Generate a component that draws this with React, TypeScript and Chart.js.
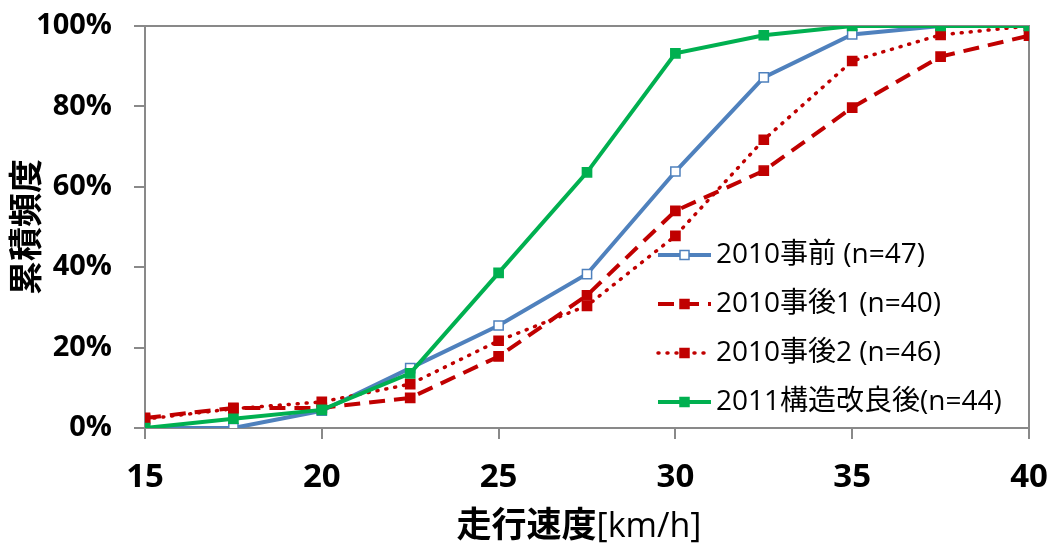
import React, { useEffect, useRef } from "react";
import { Chart, registerables } from "chart.js";

Chart.register(...registerables);

// Speed classes (km/h) and cumulative frequency (%) per survey
const speeds = [15, 17.5, 20, 22.5, 25, 27.5, 30, 32.5, 35, 37.5, 40];
const before2010 = [0, 0, 4.3, 14.9, 25.5, 38.3, 63.8, 87.2, 97.9, 100, 100];
const after2010a = [2.5, 5, 5, 7.5, 17.8, 33, 54, 64, 79.7, 92.4, 97.6];
const after2010b = [2.2, 4.8, 6.5, 10.9, 21.7, 30.4, 47.8, 71.7, 91.3, 97.8, 100];
const improved2011 = [0, 2.3, 4.5, 13.6, 38.6, 63.6, 93.2, 97.7, 100, 100, 100];

const seriesLabels = [
  "2010事前 (n=47)",
  "2010事後1 (n=40)",
  "2010事後2 (n=46)",
  "2011構造改良後(n=44)",
];
const xTickValues = [15, 20, 25, 30, 35, 40];
const yTickValues = [0, 20, 40, 60, 80, 100];
const xTitleMain = "走行速度";
const xTitleUnit = "[km/h]";
const yTitle = "累積頻度";

const FONT = "'Open Sans', 'Noto Sans CJK JP', sans-serif";
const AXIS_GREY = "#898989";
const BLUE = "#4f81bd";
const RED = "#c00000";
const GREEN = "#00b050";

const toPoints = (ys: number[]) => speeds.map((x, i) => ({ x, y: ys[i] }));

type LegendEntry = {
  label: string;
  color: string;
  dash: number[];
  width: number;
  fill: string;
  cap: CanvasLineCap;
};

// Legend drawn inside the plot area, lower right
const insideLegend = {
  id: "insideLegend",
  afterDraw(chart: Chart) {
    const ctx = chart.ctx;
    const entries: LegendEntry[] = [
      { label: seriesLabels[0], color: BLUE, dash: [], width: 4, fill: "#ffffff", cap: "butt" },
      { label: seriesLabels[1], color: RED, dash: [16, 9], width: 4, fill: RED, cap: "butt" },
      { label: seriesLabels[2], color: RED, dash: [1, 8], width: 3.5, fill: RED, cap: "round" },
      { label: seriesLabels[3], color: GREEN, dash: [], width: 4, fill: GREEN, cap: "butt" },
    ];
    const rowY = [255, 304, 353, 402];
    const x0 = 658;
    const x1 = 711;
    const mx = (x0 + x1) / 2;
    ctx.save();
    entries.forEach((e, i) => {
      const y = rowY[i];
      ctx.beginPath();
      ctx.setLineDash(e.dash);
      ctx.lineCap = e.cap;
      ctx.lineWidth = e.width;
      ctx.strokeStyle = e.color;
      ctx.moveTo(x0, y);
      ctx.lineTo(x1, y);
      ctx.stroke();
      ctx.setLineDash([]);
      ctx.lineCap = "butt";
      ctx.fillStyle = e.fill;
      ctx.fillRect(mx - 4.5, y - 4.5, 9, 9);
      ctx.lineWidth = 1.5;
      ctx.strokeStyle = e.color;
      ctx.strokeRect(mx - 4.5, y - 4.5, 9, 9);
      ctx.fillStyle = "#000000";
      ctx.font = `28px ${FONT}`;
      ctx.textBaseline = "middle";
      ctx.textAlign = "left";
      ctx.fillText(e.label, 716, y);
    });
    ctx.restore();
  },
};

// Top and right edges of the plot frame
const plotFrame = {
  id: "plotFrame",
  beforeDatasetsDraw(chart: Chart) {
    const { ctx, chartArea } = chart;
    ctx.save();
    ctx.strokeStyle = AXIS_GREY;
    ctx.lineWidth = 2;
    ctx.beginPath();
    ctx.moveTo(chartArea.left, chartArea.top);
    ctx.lineTo(chartArea.right, chartArea.top);
    ctx.lineTo(chartArea.right, chartArea.bottom);
    ctx.stroke();
    ctx.restore();
  },
};

// X axis title: bold Japanese followed by the unit in regular weight
const xAxisTitle = {
  id: "xAxisTitle",
  afterDraw(chart: Chart) {
    const { ctx, chartArea } = chart;
    ctx.save();
    ctx.fillStyle = "#000000";
    ctx.textBaseline = "middle";
    ctx.textAlign = "left";
    const boldFont = `bold 35px ${FONT}`;
    const unitFont = `34px ${FONT}`;
    ctx.font = boldFont;
    const w1 = ctx.measureText(xTitleMain).width;
    ctx.font = unitFont;
    const w2 = ctx.measureText(xTitleUnit).width;
    const cx = (chartArea.left + chartArea.right) / 2 - 8;
    const start = cx - (w1 + w2) / 2;
    const y = 527;
    ctx.font = boldFont;
    ctx.fillText(xTitleMain, start, y);
    ctx.font = unitFont;
    ctx.fillText(xTitleUnit, start + w1, y);
    ctx.restore();
  },
};

const noPad = (s: any) => {
  s.paddingTop = 0;
  s.paddingBottom = 0;
  s.paddingLeft = 0;
  s.paddingRight = 0;
};

export default function App() {
  const canvasRef = useRef<HTMLCanvasElement | null>(null);

  useEffect(() => {
    if (!canvasRef.current) return;
    const pointBase = { pointStyle: "rect" as const, pointRadius: 6.5, pointBorderWidth: 1.5, pointHoverRadius: 6.5 };
    const chart = new Chart(canvasRef.current, {
      type: "line",
      data: {
        datasets: [
          {
            label: seriesLabels[0],
            data: toPoints(before2010),
            borderColor: BLUE,
            borderWidth: 4,
            pointBackgroundColor: "#ffffff",
            pointBorderColor: BLUE,
            order: 4,
            ...pointBase,
          },
          {
            label: seriesLabels[1],
            data: toPoints(after2010a),
            borderColor: RED,
            borderWidth: 4,
            borderDash: [16, 9],
            pointBackgroundColor: RED,
            pointBorderColor: RED,
            order: 3,
            ...pointBase,
          },
          {
            label: seriesLabels[2],
            data: toPoints(after2010b),
            borderColor: RED,
            borderWidth: 3.5,
            borderDash: [1, 8],
            borderCapStyle: "round",
            pointBackgroundColor: RED,
            pointBorderColor: RED,
            order: 2,
            ...pointBase,
          },
          {
            label: seriesLabels[3],
            data: toPoints(improved2011),
            borderColor: GREEN,
            borderWidth: 4,
            pointBackgroundColor: GREEN,
            pointBorderColor: GREEN,
            order: 1,
            ...pointBase,
          },
        ],
      },
      options: {
        animation: false,
        responsive: false,
        devicePixelRatio: 1,
        layout: { padding: { top: 26, right: 25, left: 0, bottom: 0 } },
        plugins: {
          legend: { display: false },
          tooltip: { enabled: false },
        },
        scales: {
          x: {
            type: "linear",
            min: 15,
            max: 40,
            afterFit: (s: any) => {
              s.height = 122;
              noPad(s);
            },
            afterBuildTicks: (s: any) => {
              s.ticks = xTickValues.map((v) => ({ value: v }));
            },
            ticks: {
              font: { family: FONT, size: 33, weight: "bold" },
              color: "#000000",
              padding: 19,
              maxRotation: 0,
            },
            grid: {
              drawOnChartArea: false,
              drawTicks: true,
              tickLength: 11,
              color: AXIS_GREY,
              lineWidth: 2,
            },
            border: { display: true, color: AXIS_GREY, width: 2 },
            title: { display: false },
          },
          y: {
            min: 0,
            max: 100,
            afterFit: (s: any) => {
              s.width = 145;
              noPad(s);
            },
            afterBuildTicks: (s: any) => {
              s.ticks = yTickValues.map((v) => ({ value: v }));
            },
            ticks: {
              font: { family: FONT, size: 29, weight: "bold" },
              color: "#000000",
              padding: 22,
              callback: (v: any) => `${v}%`,
            },
            grid: {
              drawOnChartArea: false,
              drawTicks: true,
              tickLength: 11,
              color: AXIS_GREY,
              lineWidth: 2,
            },
            border: { display: true, color: AXIS_GREY, width: 2 },
            title: {
              display: true,
              text: yTitle,
              font: { family: FONT, size: 34, weight: "bold" },
              color: "#000000",
              padding: { top: 8, bottom: 0 },
            },
          },
        },
      },
      plugins: [plotFrame, insideLegend, xAxisTitle],
    });
    return () => chart.destroy();
  }, []);

  return (
    <div style={{ position: "fixed", left: 0, top: 0, width: 1054, height: 550, background: "#ffffff" }}>
      <canvas ref={canvasRef} width={1054} height={550} />
    </div>
  );
}
